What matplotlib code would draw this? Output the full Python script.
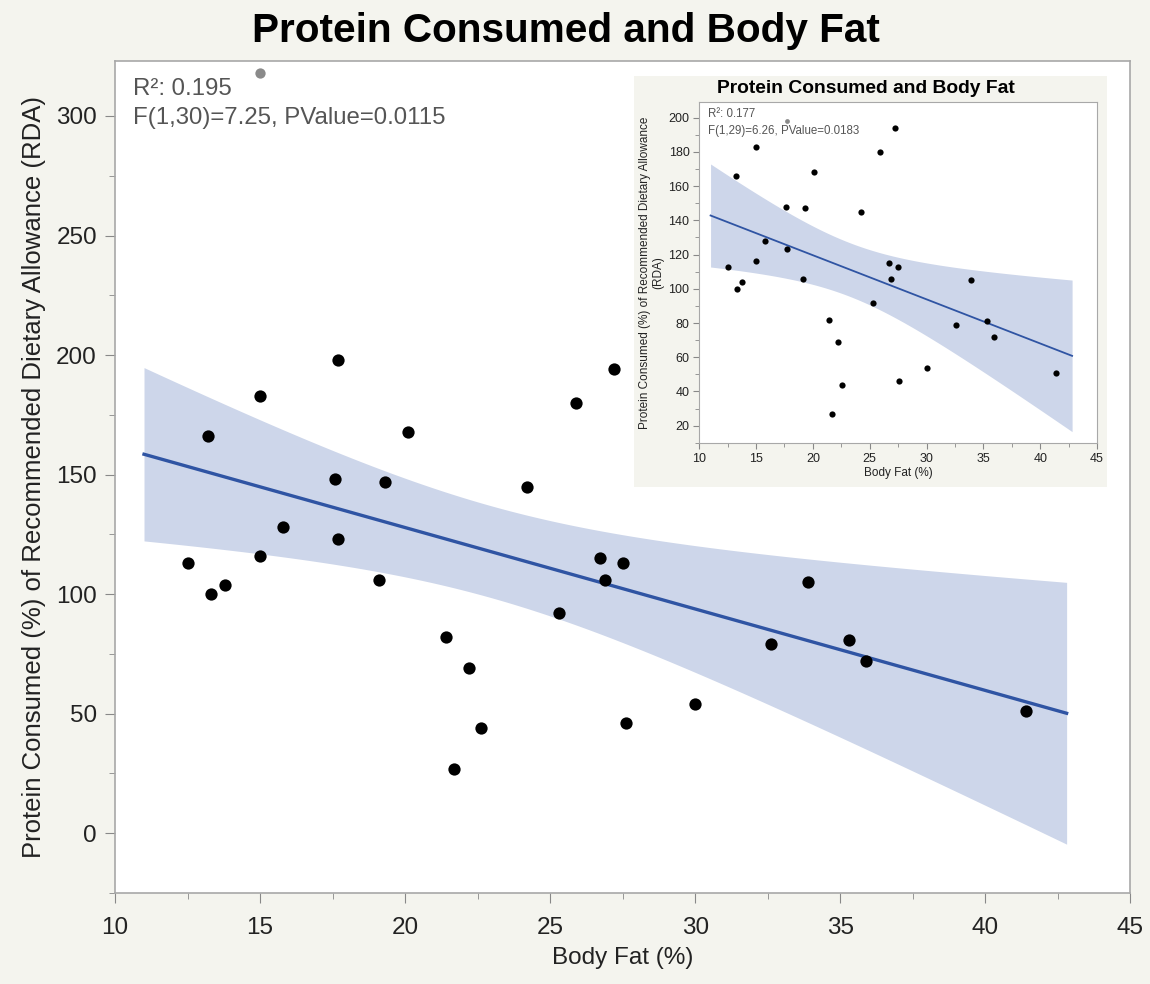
import numpy as np
import matplotlib
matplotlib.use("Agg")
import matplotlib.pyplot as plt
from matplotlib.ticker import MultipleLocator

# data (body fat %, protein % of RDA), black points
body_fat = [12.5, 13.2, 13.3, 13.8, 15.0, 15.0, 15.8, 17.6, 17.7, 19.1,
            19.3, 20.1, 21.4, 21.7, 22.2, 22.6, 24.2, 25.3, 25.9, 26.7,
            26.9, 27.2, 27.5, 27.6, 30.0, 32.6, 33.9, 35.3, 35.9, 41.4]
protein = [113, 166, 100, 104, 183, 116, 128, 148, 123, 106,
           147, 168, 82, 27, 69, 44, 145, 92, 180, 115,
           106, 194, 113, 46, 54, 79, 105, 81, 72, 51]

# point shown grey in the inset, black in the main plot
extra_x, extra_y = 17.7, 198
# point shown grey in the main plot
grey_x, grey_y = 15.0, 318

main_stats = ["R\u00b2: 0.195", "F(1,30)=7.25, PValue=0.0115"]
inset_stats = ["R\u00b2: 0.177", "F(1,29)=6.26, PValue=0.0183"]
title = "Protein Consumed and Body Fat"
xlab = "Body Fat (%)"
ylab = "Protein Consumed (%) of Recommended Dietary Allowance (RDA)"
ylab_inset = "Protein Consumed (%) of Recommended Dietary Allowance\n(RDA)"

fit_range = (11.0, 42.8)
t975 = {28: 2.048, 29: 2.045, 30: 2.042}

BG = "#f4f4ee"
BAND = "#cdd6ea"
LINE = "#2f54a3"
FRAME = "#a8a8a8"

plt.rcParams["font.family"] = ["Liberation Sans", "DejaVu Sans"]


def fit_band(x, y):
    x = np.asarray(x, float)
    y = np.asarray(y, float)
    n = len(x)
    b, a = np.polyfit(x, y, 1)
    resid = y - (a + b * x)
    s = np.sqrt(np.sum(resid ** 2) / (n - 2))
    sxx = np.sum((x - x.mean()) ** 2)
    xs = np.linspace(fit_range[0], fit_range[1], 200)
    yh = a + b * xs
    se = s * np.sqrt(1.0 / n + (xs - x.mean()) ** 2 / sxx)
    t = t975.get(n - 2, 2.04)
    return xs, yh, yh - t * se, yh + t * se


def style_axes(ax, size, tlen, pad):
    for sp in ax.spines.values():
        sp.set_color(FRAME)
        sp.set_linewidth(1.2)
    ax.tick_params(which="major", direction="out", length=tlen, color="#888888",
                   labelsize=size, labelcolor="#222222", pad=pad)
    ax.tick_params(which="minor", direction="out", length=tlen * 0.65, color="#888888")


fig = plt.figure(figsize=(11.5, 9.84), dpi=100, facecolor=BG)

# main plot (all points enter the fit, grey one included)
ax = fig.add_axes([0.100, 0.0925, 0.883, 0.8455])
mx = body_fat + [extra_x]
my = protein + [extra_y]
xs, yh, lo, hi = fit_band(mx + [grey_x], my + [grey_y])
ax.fill_between(xs, lo, hi, color=BAND, lw=0, zorder=1)
ax.plot(xs, yh, color=LINE, lw=2.4, zorder=2)
ax.scatter(mx, my, s=78, color="black", zorder=3, lw=0)
ax.scatter([grey_x], [grey_y], s=55, color="#8a8a8a", zorder=3, lw=0)
ax.set_xlim(10, 45)
ax.set_ylim(-25, 323)
ax.xaxis.set_major_locator(MultipleLocator(5))
ax.xaxis.set_minor_locator(MultipleLocator(2.5))
ax.yaxis.set_major_locator(MultipleLocator(50))
ax.yaxis.set_minor_locator(MultipleLocator(25))
style_axes(ax, 17.5, 7, 6)
ax.tick_params(axis="x", pad=10)
ax.set_xlabel(xlab, fontsize=17.5, color="#222222", labelpad=6)
ax.set_ylabel(ylab, fontsize=18.5, color="#222222", labelpad=7)
ax.text(0.018, 0.966, main_stats[0], transform=ax.transAxes, fontsize=17.3,
        color="#555555", va="center")
ax.text(0.018, 0.931, main_stats[1], transform=ax.transAxes, fontsize=17.3,
        color="#555555", va="center")
fig.text(0.492, 0.969, title, ha="center", va="center", fontsize=29.2,
         fontweight="bold")

# inset panel
panel = fig.add_axes([0.551, 0.505, 0.412, 0.418])
panel.set_facecolor(BG)
panel.set_xticks([])
panel.set_yticks([])
for sp in panel.spines.values():
    sp.set_visible(False)
panel.text(0.49, 0.968, title, transform=panel.transAxes, ha="center",
           va="center", fontsize=13.9, fontweight="bold")

ins = fig.add_axes([0.608, 0.550, 0.346, 0.346])
ix = body_fat + [extra_x]
iy = protein + [extra_y]
xs2, yh2, lo2, hi2 = fit_band(ix, iy)
ins.fill_between(xs2, lo2, hi2, color=BAND, lw=0, zorder=1)
ins.plot(xs2, yh2, color=LINE, lw=1.3, zorder=2)
ins.scatter(body_fat, protein, s=20, color="black", zorder=3, lw=0)
ins.scatter([extra_x], [extra_y], s=12, color="#8a8a8a", zorder=3, lw=0)
ins.set_xlim(10, 45)
ins.set_ylim(10, 209)
ins.xaxis.set_major_locator(MultipleLocator(5))
ins.xaxis.set_minor_locator(MultipleLocator(2.5))
ins.yaxis.set_major_locator(MultipleLocator(20))
ins.yaxis.set_minor_locator(MultipleLocator(10))
style_axes(ins, 9, 4, 3)
for sp in ins.spines.values():
    sp.set_linewidth(0.8)
ins.set_xlabel(xlab, fontsize=8.5, color="#222222", labelpad=2)
ins.set_ylabel(ylab_inset, fontsize=8.5, color="#222222", labelpad=3)
ins.text(0.022, 0.965, inset_stats[0], transform=ins.transAxes, fontsize=8.3,
         color="#555555", va="center")
ins.text(0.022, 0.915, inset_stats[1], transform=ins.transAxes, fontsize=8.3,
         color="#555555", va="center")

fig.savefig("out.png", dpi=100, facecolor=BG)
